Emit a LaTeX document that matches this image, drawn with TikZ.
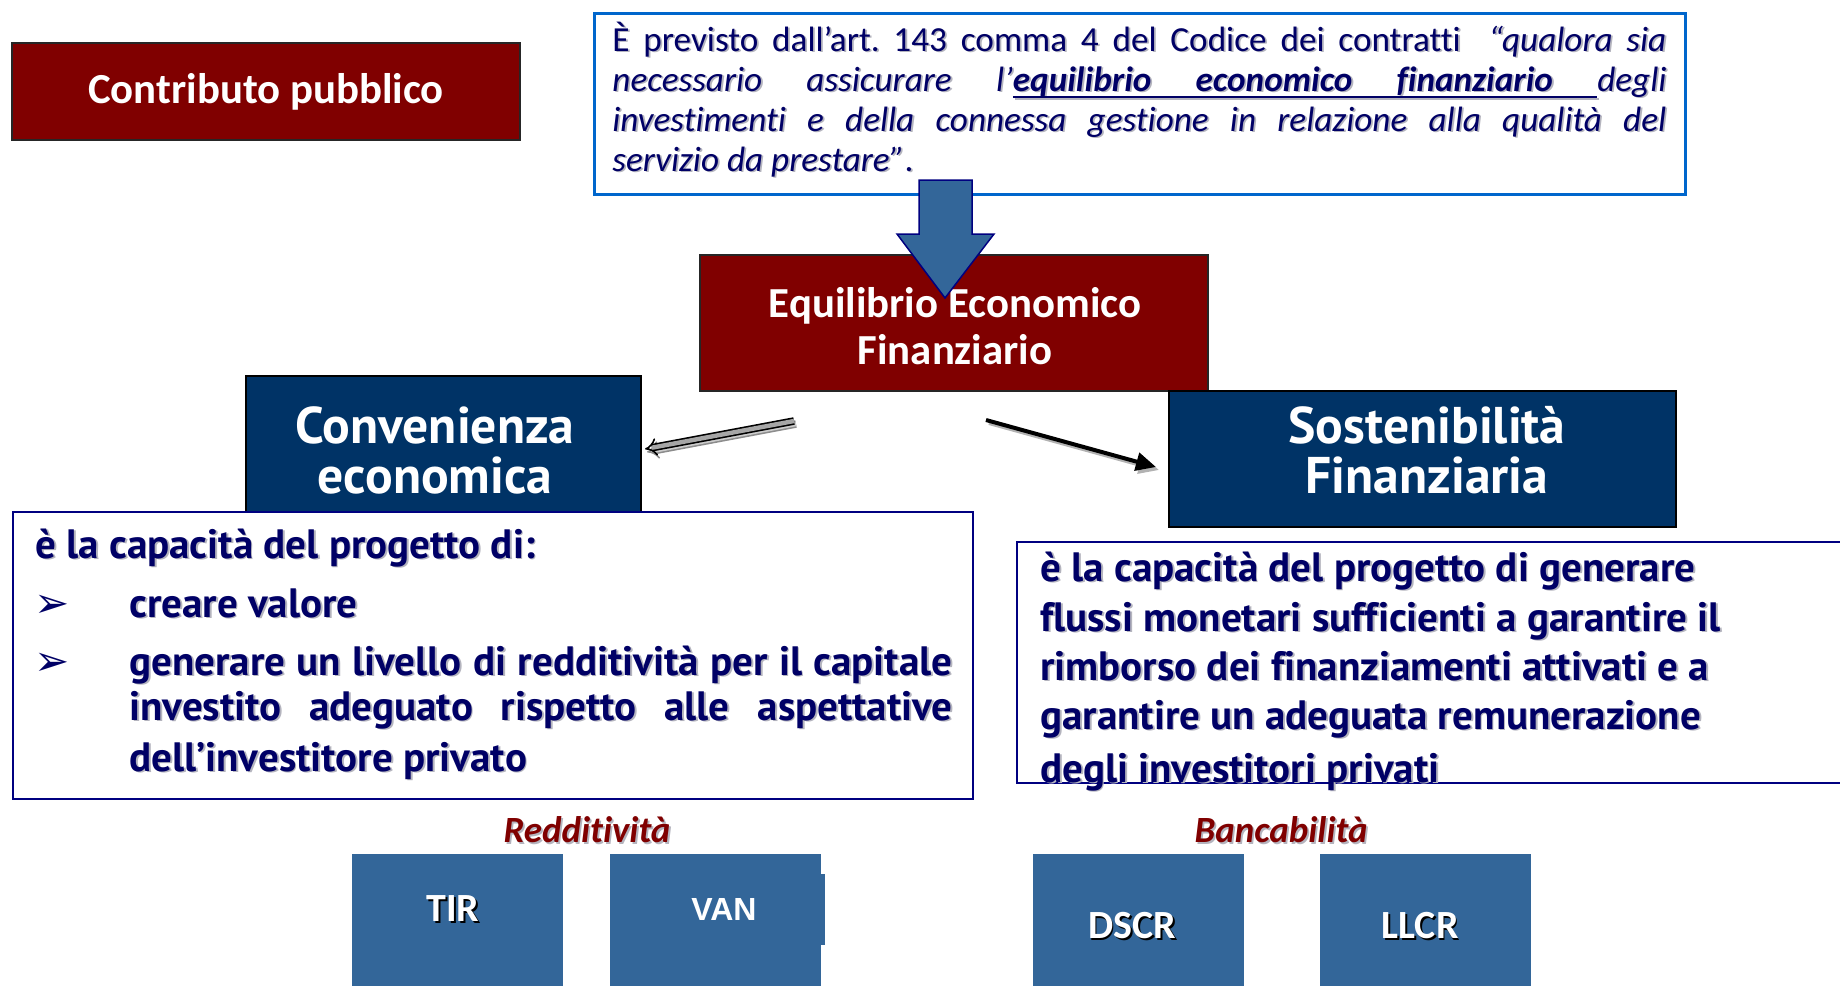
\documentclass[tikz,border=0pt]{standalone}
\usepackage{fontspec}
\setmainfont{Carlito}[Ligatures=NoCommon]
\newfontfamily\tah{PT Sans}[Ligatures=NoCommon]
\newfontfamily\dejavu{DejaVu Sans}
\newfontfamily\arialf{Liberation Sans}
\usetikzlibrary{arrows.meta}
\definecolor{dred}{HTML}{800000}
\definecolor{navybox}{HTML}{003366}
\definecolor{midblue}{HTML}{336699}
\definecolor{qblue}{HTML}{0066CC}
\definecolor{navytxt}{HTML}{000066}
\definecolor{bordnavy}{HTML}{000080}
\definecolor{shade}{HTML}{B4B4BE}
\frenchspacing
\newcommand{\dupnode}[5]{%
  \node[#1, text=#2, xshift=0.9pt, yshift=-0.9pt] at #4 {#5};
  \node[#1] (#3) at #4 {#5};}
\newcommand{\ulw}[1]{\setbox0\hbox{#1}\rlap{\rule[-3.6pt]{\wd0}{1.1pt}}\box0}
\newcommand{\ulsp}{\leaders\hrule height -2.5pt depth 3.6pt\hskip\fontdimen2\font plus \fontdimen3\font minus \fontdimen4\font\relax}
\begin{document}
\begin{tikzpicture}[x=0.5pt,y=-0.5pt,
  redbox/.style={draw=black!85, line width=1pt, fill=dred, text=white, inner sep=0pt,
    font=\bfseries\fontsize{21.4}{23.5}\selectfont, align=center},
  navybx/.style={draw=black, line width=1pt, fill=navybox, inner sep=0pt},
  navylabel/.style={text=white, align=center, inner sep=0pt,
    font=\tah\bfseries\fontsize{25.8}{25}\selectfont},
  txtbox/.style={draw=bordnavy, line width=1pt, fill=white, inner sep=0pt},
  qline/.style={anchor=base west, inner sep=0pt, text=navytxt, font=\fontsize{17.6}{20}\selectfont},
  bline/.style={anchor=base west, inner sep=0pt, text=navytxt, font=\tah\bfseries\fontsize{20.5}{23}\selectfont},
  bullet/.style={anchor=base west, inner sep=0pt, text=navytxt, font=\dejavu\fontsize{21}{22}\selectfont},
  smallbox/.style={fill=midblue, inner sep=0pt, minimum width=105.5pt, minimum height=73pt},
  boxlabel/.style={inner sep=0pt, text=white, font=\bfseries\fontsize{20}{22}\selectfont},
  catlabel/.style={inner sep=0pt, text=dred, font=\bfseries\itshape\fontsize{18.5}{20}\selectfont}
]
\useasboundingbox (0,0) rectangle (1840,985);
\clip (0,0) rectangle (1840,985);

% Contributo pubblico
\node[redbox, minimum width=254pt, minimum height=48.5pt] (contrib) at (266,91.5) {Contributo pubblico};

% quote box
\node[draw=qblue, line width=1.5pt, fill=white, minimum width=545.5pt, minimum height=90.5pt, inner sep=0pt] (quote) at (1139.5,103.5) {};
\dupnode{qline}{shade}{q1}{(612,51)}{\makebox[527pt][s]{È previsto dall’art. 143 comma 4 del Codice dei contratti\ \ \textit{“qualora sia}}}
\dupnode{qline}{shade}{q2}{(612,91)}{\makebox[527pt][s]{\itshape necessario assicurare l’\bfseries\ulw{equilibrio}\ulsp\ulw{economico}\ulsp\ulw{finanziario}\ulsp\mdseries degli}}
\dupnode{qline}{shade}{q3}{(612,131)}{\makebox[527pt][s]{\itshape investimenti e della connessa gestione in relazione alla qualità del}}
\dupnode{qline}{shade}{q4}{(612,171)}{{\itshape servizio da prestare”}.}

% Equilibrio
\node[redbox, minimum width=254pt, minimum height=68pt] (eef) at (954,323) {};
\node[redbox, draw=none, fill=none] (eeft) at (955,326) {Equilibrio Economico\\Finanziario};

% big down arrow
\coordinate (ar-top) at (945,180);
\draw[fill=midblue, draw=bordnavy, line width=0.75pt]
  (919,180) -- (972,180) -- (972,234) -- (994,234) -- (945,298) -- (897,234) -- (919,234) -- cycle;

% Convenienza / Sostenibilita boxes
\node[navybx, minimum width=197.5pt, minimum height=68pt] (conv) at (443.5,444) {};
\node[navylabel] (convt) at (435,450) {Convenienza\\economica};
\node[navybx, minimum width=253.5pt, minimum height=68pt] (sost) at (1422.5,459) {};
\node[navylabel] (sostt) at (1427,450) {Sostenibilità\\Finanziaria};

% connectors
\coordinate (la-s) at (794,421);
\coordinate (la-e) at (645,449);
\draw[draw=black!45, double=gray!40, double distance=2.2pt, line width=0.8pt, -{Implies}]
  ([shift={(2,3)}]la-s) -- ([shift={(2,3)}]la-e);
\draw[draw=black, double=gray!70, double distance=2.2pt, line width=0.8pt, -{Implies}] (la-s) -- (la-e);
\coordinate (ra-s) at (986,420);
\coordinate (ra-e) at (1156,467);
\draw[gray!60, line width=2pt, -{Triangle[length=10pt,width=9pt]}] ([shift={(3,3)}]ra-s) -- ([shift={(3,3)}]ra-e);
\draw[black, line width=2pt, -{Triangle[length=10pt,width=9pt]}] (ra-s) -- (ra-e);

% left text box
\node[txtbox, minimum width=480pt, minimum height=143.5pt] (lbox) at (493,655.5) {};
\dupnode{bline}{shade}{l1}{(35,558)}{è la capacità del progetto di:}
\node[bullet] (b1) at (34,617) {➢};
\dupnode{bline}{shade}{l2}{(129,617)}{creare valore}
\node[bullet] (b2) at (34,675) {➢};
\dupnode{bline}{shade}{l3}{(129,675)}{\makebox[411.5pt][s]{generare un livello di redditività per il capitale}}
\dupnode{bline}{shade}{l4}{(129,720)}{\makebox[411.5pt][s]{investito adeguato rispetto alle aspettative}}
\dupnode{bline}{shade}{l5}{(129,771)}{dell’investitore privato}

% right text box
\node[txtbox, minimum width=441.5pt, minimum height=120.5pt] (rbox) at (1458.5,662.5) {};
\dupnode{bline}{shade}{r1}{(1040,581)}{è la capacità del progetto di generare}
\dupnode{bline}{shade}{r2}{(1040,631)}{flussi monetari sufficienti a garantire il}
\dupnode{bline}{shade}{r3}{(1040,680)}{rimborso dei finanziamenti attivati e a}
\dupnode{bline}{shade}{r4}{(1040,729)}{garantire un adeguata remunerazione}
\dupnode{bline}{shade}{r5}{(1040,782)}{degli investitori privati}

% categories
\dupnode{catlabel}{shade}{redd}{(587,830)}{Redditività}
\dupnode{catlabel}{shade}{banc}{(1281,830)}{Bancabilità}

% bottom boxes
\node[smallbox] (tir) at (457.5,927) {};
\node[smallbox] (van) at (715.5,927) {};
\fill[midblue] (819,874) rectangle (825,945);
\node[smallbox] (dscr) at (1138.5,927) {};
\node[smallbox] (llcr) at (1425.5,927) {};
\dupnode{boxlabel}{black}{tirt}{(453,909)}{TIR}
\node[inner sep=0pt, text=white, font=\arialf\bfseries\fontsize{16}{18}\selectfont] (vant) at (724,909) {VAN};
\dupnode{boxlabel}{black}{dscrt}{(1132,926)}{DSCR}
\dupnode{boxlabel}{black}{llcrt}{(1420,926)}{LLCR}
\end{tikzpicture}
\end{document}
